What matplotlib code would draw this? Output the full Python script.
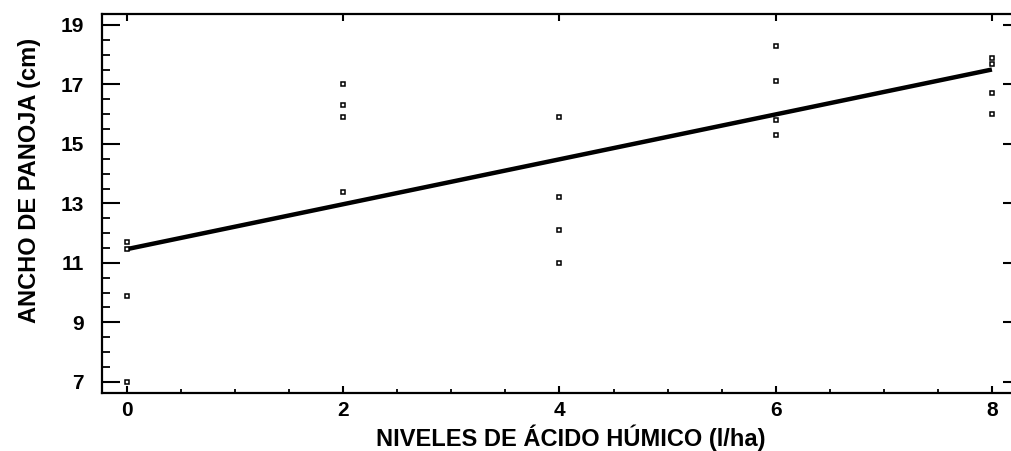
import numpy as np
import matplotlib.pyplot as plt
from matplotlib.ticker import MultipleLocator

# niveles de acido humico (l/ha) y ancho de panoja (cm)
niveles = [0, 0, 0, 0, 2, 2, 2, 2, 4, 4, 4, 4, 6, 6, 6, 6, 8, 8, 8, 8]
ancho = [11.7, 11.45, 9.9, 7.0,
         17.0, 16.3, 15.9, 13.4,
         15.9, 13.2, 12.1, 11.0,
         18.3, 17.1, 15.8, 15.3,
         17.9, 17.7, 16.7, 16.0]
x_ticks = [0, 2, 4, 6, 8]
y_ticks = [7, 9, 11, 13, 15, 17, 19]

plt.rcParams['font.family'] = ['Liberation Sans', 'DejaVu Sans']
plt.rcParams['font.weight'] = 'bold'

fig = plt.figure(figsize=(10.11, 4.51), dpi=100)
ax = fig.add_axes([0.101, 0.129, 0.909, 0.840])

# recta de regresion
b, a = np.polyfit(niveles, ancho, 1)
xs = np.linspace(0, 8, 200)
ax.plot(xs, a + b * xs, color='black', lw=3.2, solid_capstyle='butt', zorder=2)

ax.plot(niveles, ancho, linestyle='none', marker='s', ms=3.2, mfc='white',
        mec='black', mew=1.1, zorder=3)

ax.set_xlim(-0.23, 8.27)
ax.set_ylim(6.63, 19.37)
ax.set_xticks(x_ticks)
ax.set_yticks(y_ticks)
ax.xaxis.set_minor_locator(MultipleLocator(0.5))
ax.yaxis.set_minor_locator(MultipleLocator(0.5))

for s in ax.spines.values():
    s.set_linewidth(1.6)

ax.tick_params(axis='y', which='major', direction='in', length=13, width=1.5,
               pad=13, labelsize=15, right=True)
ax.tick_params(axis='y', which='minor', direction='in', length=6, width=1.3)
ax.tick_params(axis='x', which='major', direction='in', length=5, width=1.5,
               pad=6, labelsize=15, top=True)
ax.tick_params(axis='x', which='minor', direction='in', length=3, width=1.3)

ax.set_xlabel('NIVELES DE ÁCIDO HÚMICO (l/ha)', fontsize=17, fontweight='bold')
ax.set_ylabel('ANCHO DE PANOJA (cm)', fontsize=17, fontweight='bold')
ax.xaxis.set_label_coords(0.51, -0.083)
ax.yaxis.set_label_coords(-0.066, 0.56)

fig.savefig('out.png', dpi=100)
